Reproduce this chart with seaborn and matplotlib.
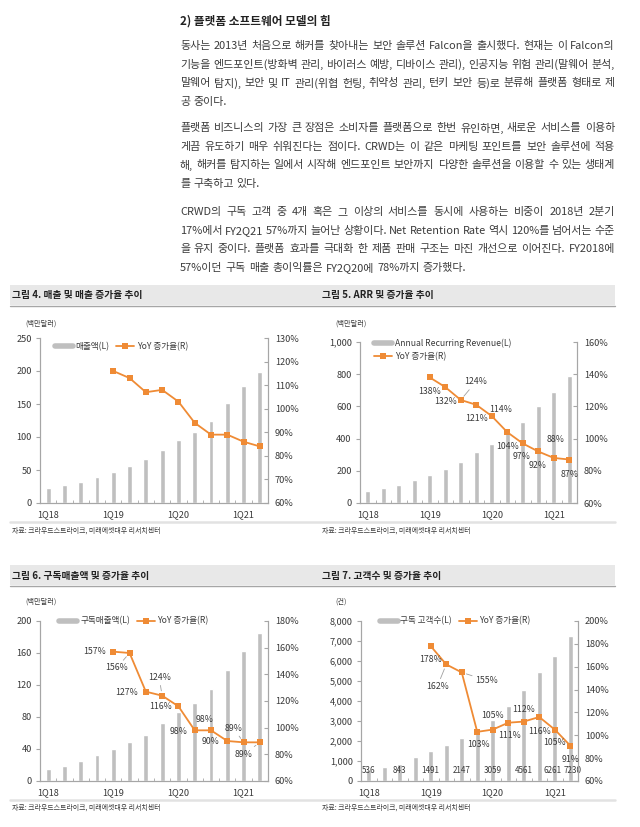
import numpy as np
import seaborn as sns
import matplotlib.pyplot as plt
from matplotlib.lines import Line2D
from matplotlib.patches import Rectangle
from matplotlib.ticker import FuncFormatter

sns.set_style('white')
plt.rcParams['font.family'] = ['Noto Sans CJK KR', 'DejaVu Sans']

# data
quarters = ['1Q18', '2Q18', '3Q18', '4Q18', '1Q19', '2Q19', '3Q19', '4Q19',
            '1Q20', '2Q20', '3Q20', '4Q20', '1Q21', '2Q21']
tick_labels = ['1Q18', '1Q19', '1Q20', '1Q21']

revenue = [22, 27, 32, 39, 47, 56, 67, 81, 96, 108, 125, 152, 178, 199]
revenue_yoy = [116, 113, 107, 108, 103, 94, 89, 89, 86, 84]

arr = [72, 93, 114, 141, 172, 211, 255, 315, 366, 452, 503, 600, 689, 791]
arr_yoy = [138, 132, 124, 121, 114, 104, 97, 92, 88, 87]

sub_revenue = [15, 19, 25, 32, 40, 49, 58, 73, 86, 97, 115, 139, 163, 185]
sub_revenue_yoy = [157, 156, 127, 124, 116, 98, 98, 90, 89, 89]

customers = [536, 683, 843, 1217, 1491, 1783, 2147, 2633, 3059, 3767, 4561, 5431, 6261, 7230]
customers_yoy = [178, 162, 155, 103, 105, 111, 112, 116, 105, 91]
customer_label_idx = [0, 2, 4, 6, 8, 10, 12, 13]

title = '2) 플랫폼 소프트웨어 모델의 힘'
paragraphs = [
    ['동사는 2013년 처음으로 해커를 찾아내는 보안 솔루션 Falcon을 출시했다. 현재는 이 Falcon의',
     '기능을 엔드포인트(방화벽 관리, 바이러스 예방, 디바이스 관리), 인공지능 위험 관리(말웨어 분석,',
     '말웨어 탐지), 보안 및 IT 관리(위협 헌팅, 취약성 관리, 턴키 보안 등)로 분류해 플랫폼 형태로 제',
     '공 중이다.'],
    ['플랫폼 비즈니스의 가장 큰 장점은 소비자를 플랫폼으로 한번 유인하면, 새로운 서비스를 이용하',
     '게끔 유도하기 매우 쉬워진다는 점이다. CRWD는 이 같은 마케팅 포인트를 보안 솔루션에 적용',
     '해, 해커를 탐지하는 일에서 시작해 엔드포인트 보안까지 다양한 솔루션을 이용할 수 있는 생태계',
     '를 구축하고 있다.'],
    ['CRWD의 구독 고객 중 4개 혹은 그 이상의 서비스를 동시에 사용하는 비중이 2018년 2분기',
     '17%에서 FY2Q21 57%까지 늘어난 상황이다. Net Retention Rate 역시 120%를 넘어서는 수준',
     '을 유지 중이다. 플랫폼 효과를 극대화 한 제품 판매 구조는 마진 개선으로 이어진다. FY2018에',
     '57%이던 구독 매출 총이익률은 FY2Q20에 78%까지 증가했다.'],
]
source = '자료: 크라우드스트라이크, 미래에셋대우 리서치센터'

W, H = 640, 827
BAR = '#bfbfbf'
ORANGE = '#ef8b35'
TXT = '#3a3a3a'
GRID = '#a6a6a6'

fig = plt.figure(figsize=(W / 100, H / 100), dpi=100)
renderer = fig.canvas.get_renderer()


def fx(x):
    return x / W


def fy(y):
    return 1 - y / H


# ---- text block (justified lines) ----
fig.text(fx(180), fy(21), title, fontsize=8.4, weight='bold', color='#222222', va='center')

x_left, x_right = 180, 615
line_y = [[46, 64.7, 83.4, 102.1], [128, 146.7, 165.4, 184.1], [212, 230.7, 249.4, 268.1]]
for para, ys in zip(paragraphs, line_y):
    for k, (line, y) in enumerate(zip(para, ys)):
        words = line.split(' ')
        items = [fig.text(0, fy(y), w, fontsize=7.9, color=TXT, va='center') for w in words]
        widths = [t.get_window_extent(renderer).width for t in items]
        if k == len(para) - 1:
            gap = 3.0
        else:
            gap = max((x_right - x_left - sum(widths)) / (len(words) - 1), 1.5)
        x = x_left
        for t, w in zip(items, widths):
            t.set_x(fx(x))
            x += w + gap

# ---- header bands / source lines ----
for top in [285, 565]:
    fig.add_artist(Rectangle((fx(10), fy(top + 20)), fx(605), 20 / H,
                             transform=fig.transFigure, color='#e8e8e8', lw=0))
    fig.add_artist(Line2D([fx(10), fx(615)], [fy(top + 21)] * 2, color=GRID, lw=1))
for y in [522, 800]:
    fig.add_artist(Line2D([fx(10), fx(615)], [fy(y)] * 2, color='#e2e2e2', lw=1.8))

headers = [(12, 295, '그림 4. 매출 및 매출 증가율 추이'), (322, 295, '그림 5. ARR 및 증가율 추이'),
           (12, 576, '그림 6. 구독매출액 및 증가율 추이'), (322, 576, '그림 7. 고객수 및 증가율 추이')]
for x, y, s in headers:
    fig.text(fx(x), fy(y), s, fontsize=7.0, weight='bold', color='#222222', va='center')
for x, y in [(12, 531), (322, 531), (12, 808), (322, 808)]:
    fig.text(fx(x), fy(y), source, fontsize=5.0, color=TXT, va='center')
for x, y, s in [(25, 324, '(백만달러)'), (335, 324, '(백만달러)'), (25, 602, '(백만달러)'), (335, 602, '(건)')]:
    fig.text(fx(x), fy(y), s, fontsize=5.2, color=TXT, va='center')


def draw_chart(left, top, right, bottom, values, yoy, ymax, ystep, rmin, rmax, rstep):
    ax = fig.add_axes([fx(left), fy(bottom), (right - left) / W, (bottom - top) / H])
    sns.barplot(x=quarters, y=values, ax=ax, color=BAR, width=0.3, saturation=1)
    ax2 = ax.twinx()
    xs = list(range(len(quarters) - len(yoy), len(quarters)))
    sns.lineplot(x=xs, y=yoy, ax=ax2, color=ORANGE, lw=1.3, marker='s', markersize=4.6,
                 markeredgewidth=0)
    ax.set_xlim(-0.5, len(quarters) - 0.5)
    ax.set_ylim(0, ymax)
    ax.set_yticks(np.arange(0, ymax + 1, ystep))
    ax.yaxis.set_major_formatter(FuncFormatter(lambda v, p: f'{v:,.0f}'))
    ax2.set_ylim(rmin, rmax)
    ax2.set_yticks(np.arange(rmin, rmax + 1, rstep))
    ax2.yaxis.set_major_formatter(FuncFormatter(lambda v, p: f'{v:.0f}%'))
    ax.set_xticks([0, 4, 8, 12], tick_labels)
    ax.set_xticks(np.arange(-0.5, len(quarters)), minor=True)
    ax.set_xlabel('')
    ax.set_ylabel('')
    ax2.set_ylabel('')
    for a in (ax, ax2):
        a.spines['top'].set_visible(False)
        for s in ['left', 'right', 'bottom']:
            a.spines[s].set_color(GRID)
            a.spines[s].set_linewidth(0.8)
    ax.tick_params(axis='y', direction='out', length=3, color=GRID, labelsize=6.6,
                   labelcolor=TXT, pad=3)
    ax2.tick_params(axis='y', direction='in', length=3, color=GRID, labelsize=6.6,
                    labelcolor=TXT, pad=5)
    ax.tick_params(axis='x', which='major', length=0, labelsize=6.6, labelcolor=TXT, pad=5)
    ax.tick_params(axis='x', which='minor', direction='in', length=2.5, color=GRID,
                   bottom=True)
    return ax, ax2, xs


def add_labels(ax2, xs, yoy, offsets, leaders):
    for i, (x, v) in enumerate(zip(xs, yoy)):
        dx, dy = offsets[i]
        props = None
        if i in leaders:
            props = dict(arrowstyle='-', color='#a0a0a0', lw=0.6, shrinkA=0, shrinkB=3.5)
        ax2.annotate(f'{v}%', (x, v), xytext=(dx * 0.72, dy * 0.72), textcoords='offset points',
                     ha='center', va='center', fontsize=6.3, color=TXT, arrowprops=props)


def add_legend(ax, bar_name, anchor, ncol):
    handles = [Line2D([], [], color=BAR, lw=4),
               Line2D([], [], color=ORANGE, lw=1.3, marker='s', markersize=4.6, markeredgewidth=0)]
    ax.legend(handles, [bar_name, 'YoY 증가율(R)'], loc='center left', bbox_to_anchor=anchor,
              ncol=ncol, frameon=False, fontsize=6.2, handlelength=2.1, handletextpad=0.3,
              columnspacing=0.8, labelspacing=0.5, borderaxespad=0, labelcolor=TXT)


# chart 4: revenue
ax, ax2, xs = draw_chart(40, 338, 268, 503, revenue, revenue_yoy, 250, 50, 60, 130, 10)
add_legend(ax2, '매출액(L)', (0.05, 0.95), 2)

# chart 5: ARR
ax, ax2, xs = draw_chart(360, 342, 577, 503, arr, arr_yoy, 1000, 200, 60, 160, 20)
add_legend(ax2, 'Annual Recurring Revenue(L)', (0.05, 0.95), 1)
add_labels(ax2, xs, arr_yoy,
           [(0, -14), (0, -14), (15, 18), (0, -14), (9, 7), (0, -14), (-1, -13), (-1, -14),
            (2, 18), (0, -15)], [2])

# chart 6: subscription revenue
ax, ax2, xs = draw_chart(40, 621, 268, 781, sub_revenue, sub_revenue_yoy, 200, 40, 60, 180, 20)
add_legend(ax2, '구독매출액(L)', (0.07, 1.0), 2)
add_labels(ax2, xs, sub_revenue_yoy,
           [(-19, 0), (-13, -15), (-19, -1), (-3, 18), (-18, 0), (-16, -1), (-6, 11),
            (-17, 0), (-10, 14), (-16, -12)], [1, 3, 8, 9])

# chart 7: customers
ax, ax2, xs = draw_chart(361, 621, 578, 781, customers, customers_yoy, 8000, 1000, 60, 200, 20)
add_legend(ax2, '구독 고객수(L)', (0.07, 1.0), 2)
add_labels(ax2, xs, customers_yoy,
           [(0, -13), (-9, -22), (25, -8), (1, -13), (0, 14), (1, -13), (0, 12), (0, -14),
            (0, -13), (0, -14)], [1, 2])
nudge = {12: -2, 13: 2}
for i in customer_label_idx:
    ax.annotate(f'{customers[i]}', (i, 0), xytext=(nudge.get(i, 0) * 0.72, 7.5),
                textcoords='offset points', ha='center', va='center', fontsize=5.8, color=TXT)

fig.savefig('out.png', dpi=100, facecolor='white')
